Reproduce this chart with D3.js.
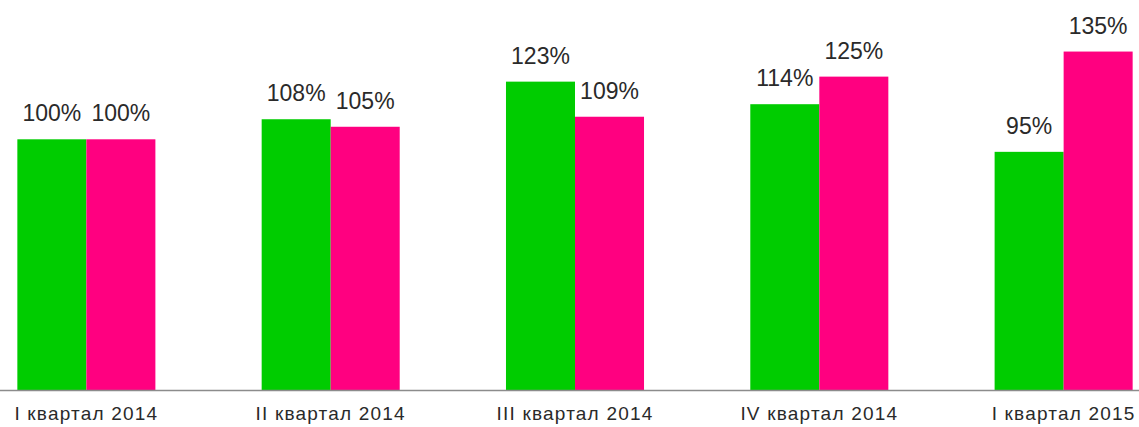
<!DOCTYPE html>
<html>
<head>
<meta charset="utf-8">
<script src="https://cdnjs.cloudflare.com/ajax/libs/d3/7.8.5/d3.min.js"></script>
<style>
  body { margin: 0; background: #fff; }
  svg { display: block; }
</style>
</head>
<body>
<svg width="1139" height="427"></svg>
<script>

var categories = ["I квартал 2014", "II квартал 2014", "III квартал 2014", "IV квартал 2014", "I квартал 2015"];
var seriesGreen = [100, 108, 123, 114, 95];
var seriesPink = [100, 105, 109, 125, 135];
var seriesNames = ["green", "pink"];
var colors = ["#00cc00", "#ff0080"];

var svg = d3.select("svg"),
    width = +svg.attr("width"),
    height = +svg.attr("height");

var baseY = 390;

var x = d3.scaleBand()
    .domain(categories)
    .range([0, 1150])
    .paddingInner(0.435)
    .paddingOuter(0.071);

var x1 = d3.scaleBand()
    .domain(seriesNames)
    .range([0, x.bandwidth()]);

var y = d3.scaleLinear()
    .domain([0, 100])
    .range([baseY, baseY - 250.7]);

var rows = categories.map(function(c, i) {
    return { cat: c, values: [seriesGreen[i], seriesPink[i]] };
});

var groups = svg.append("g")
    .selectAll("g")
    .data(rows)
    .enter()
    .append("g")
    .attr("transform", (d) => "translate(" + x(d.cat) + ",0)");

groups.selectAll("rect")
    .data((d) => d.values.map((v, j) => ({ key: seriesNames[j], v: v, j: j })))
    .enter()
    .append("rect")
    .attr("x", (d) => x1(d.key))
    .attr("y", (d) => y(d.v))
    .attr("width", x1.bandwidth())
    .attr("height", (d) => baseY - y(d.v))
    .attr("fill", (d) => colors[d.j]);

groups.selectAll("text")
    .data((d) => d.values.map((v, j) => ({ key: seriesNames[j], v: v })))
    .enter()
    .append("text")
    .attr("x", (d) => x1(d.key) + x1.bandwidth() / 2)
    .attr("y", (d) => y(d.v) - 18)
    .attr("text-anchor", "middle")
    .attr("font-family", "'Liberation Sans', Arial, sans-serif")
    .attr("font-size", 23)
    .attr("fill", "#2a2a2a")
    .text((d) => d.v + "%");

// baseline
svg.append("line")
    .attr("x1", 0)
    .attr("x2", width)
    .attr("y1", baseY + 0.5)
    .attr("y2", baseY + 0.5)
    .attr("stroke", "#8c8c8c")
    .attr("stroke-width", 1.5);

svg.append("g")
    .selectAll("text")
    .data(categories)
    .enter()
    .append("text")
    .attr("x", (d) => x(d) + x.bandwidth() / 2)
    .attr("y", 420)
    .attr("text-anchor", "middle")
    .attr("font-family", "'Liberation Sans', Arial, sans-serif")
    .attr("font-size", 19)
    .attr("letter-spacing", 1.2)
    .attr("fill", "#2a2a2a")
    .text((d) => d);

</script>
</body>
</html>
